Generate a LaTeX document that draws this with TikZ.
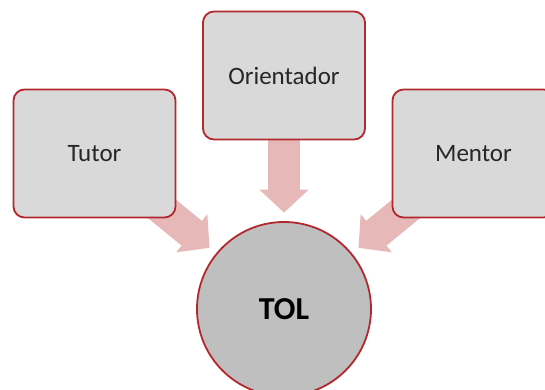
\documentclass[tikz,border=0pt]{standalone}
\usepackage{fontspec}
\setmainfont{Carlito}
\usetikzlibrary{arrows.meta,backgrounds}
\definecolor{boxfill}{HTML}{D9D9D9}
\definecolor{circfill}{HTML}{BFBFBF}
\definecolor{redline}{HTML}{B3282D}
\definecolor{arrowpink}{HTML}{E6B9B8}
\tikzset{
  rolebox/.style={draw=redline, line width=1.8pt, fill=boxfill, rounded corners=11pt,
    minimum width=162pt, minimum height=128pt, inner sep=0pt,
    font=\fontsize{25}{30}\selectfont, text=black!85},
  centre/.style={circle, draw=redline, line width=1.8pt, fill=circfill,
    minimum size=174pt, inner sep=0pt, font=\bfseries\fontsize{32}{38}\selectfont},
  bigarrow/.style={draw=arrowpink, line width=32pt,
    -{Triangle[width=48pt,length=23pt]}, shorten >=8.5pt}
}
\begin{document}
\begin{tikzpicture}[x=1pt,y=1pt]
\useasboundingbox (0,0) rectangle (545,389);
\clip (0,0) rectangle (545,389);
\node[rolebox] (tutor) at (94.5,235.5) {Tutor};
\node[rolebox] (orient) at (284,313.5) {Orientador};
\node[rolebox] (mentor) at (473.5,235.5) {Mentor};
\node[centre] (tol) at (284,80) {TOL};
\begin{scope}[on background layer]
\fill[white] (0,0) rectangle (545,389);
\draw[bigarrow] (tutor.center) -- (tol);
\draw[bigarrow] (orient.center) -- (tol);
\draw[bigarrow] (mentor.center) -- (tol);
\end{scope}
\end{tikzpicture}
\end{document}
